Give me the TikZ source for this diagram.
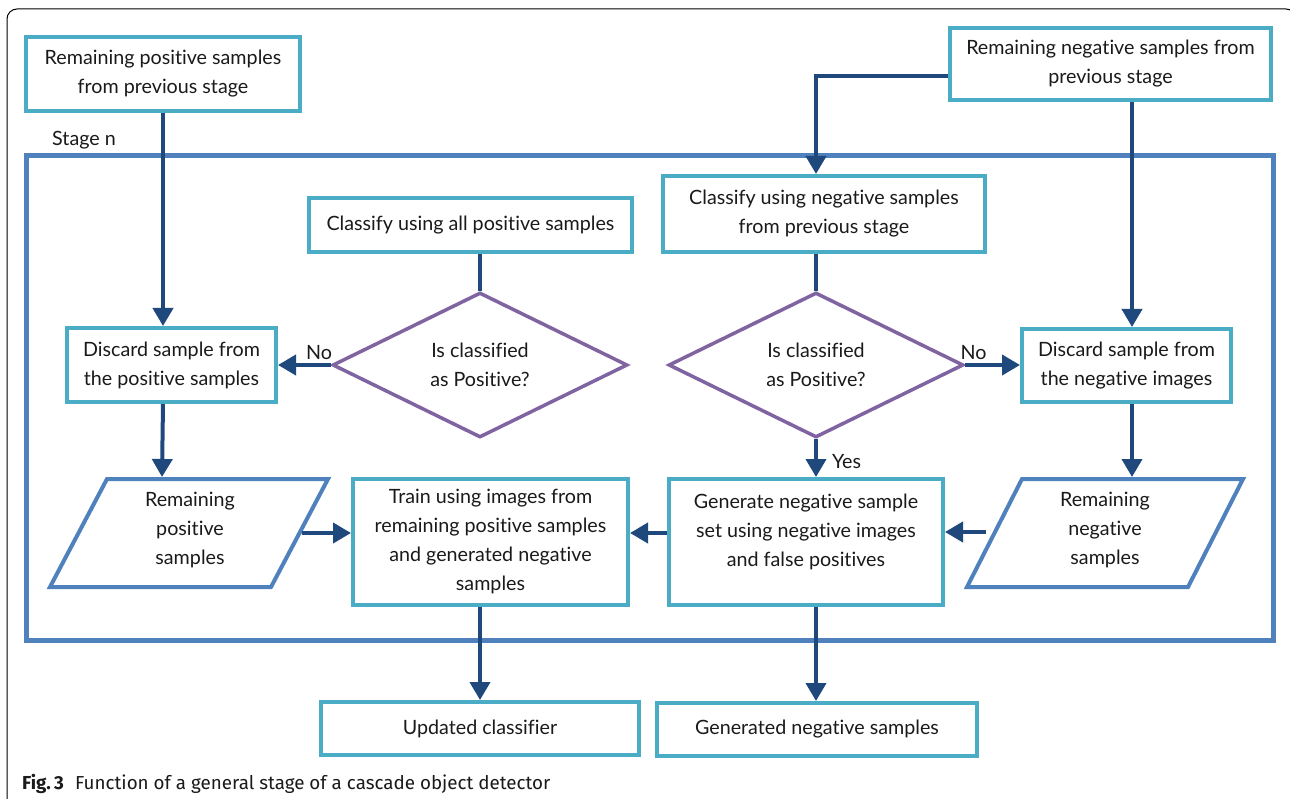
\documentclass[tikz,border=0pt]{standalone}
\usepackage{fontspec}
\setmainfont[Ligatures={NoCommon,NoRare,NoDiscretionary},Contextuals=NoAlternate]{Lato}
\newfontfamily\capfont{Fira Sans}
\usetikzlibrary{shapes.geometric,arrows.meta}
\definecolor{boxc}{HTML}{4BACC6}
\definecolor{stagec}{HTML}{4F81BD}
\definecolor{diac}{HTML}{8064A2}
\definecolor{arrc}{HTML}{1F497D}
\definecolor{txt}{HTML}{1A1A1A}
\begin{document}
\begin{tikzpicture}[x=1pt,y=-1pt,
  tfont/.style={font=\fontsize{19.7}{29}\selectfont},
  box/.style={draw=boxc, line width=4pt, fill=white, align=center, inner sep=0pt, text=txt, tfont},
  dec/.style={draw=diac, line width=3.5pt, shape=diamond, aspect=2, inner sep=0pt, align=center, text=txt, tfont},
  para/.style={draw=stagec, line width=4pt, line join=miter},
  lbl/.style={inner sep=0pt, text=txt, align=center, tfont},
  conn/.style={draw=arrc, line width=4pt},
  arr/.style={conn, -{Triangle[width=20pt,length=18pt]}},
]
\useasboundingbox (0,0) rectangle (1290,799);
\fill[white] (0,0) rectangle (1290,799);
\begin{scope}
  \clip (0,0) rectangle (1290,799);
  \draw[black, line width=1pt, rounded corners=10pt] (7,9) rectangle (1296,808);
\end{scope}

% stage frame
\draw[stagec, line width=5pt] (26.5,155.5) rectangle (1273.5,640.5);
\node[lbl, anchor=base west] (stg) at (52,146) {Stage n};

% boxes
\node[box, minimum width=274pt, minimum height=74pt] (tl) at (163,74) {Remaining positive samples\\from previous stage};
\node[box, minimum width=321pt, minimum height=72pt] (tr) at (1110.5,64) {Remaining negative samples from\\previous stage};
\node[box, minimum width=323pt, minimum height=54pt] (cp) at (470.5,225) {Classify using all positive samples};
\node[box, minimum width=322pt, minimum height=76pt] (cn) at (824,214) {Classify using negative samples\\from previous stage};
\node[dec, minimum width=295pt, minimum height=145pt] (d1) at (480,365) {Is classified\\as Positive?};
\node[dec, minimum width=295pt, minimum height=145pt] (d2) at (816,365) {Is classified\\as Positive?};
\node[box, minimum width=209pt, minimum height=74pt] (dp) at (171.5,365) {Discard sample from\\the positive samples};
\node[box, minimum width=209pt, minimum height=73pt] (dn) at (1126.5,365.5) {Discard sample from\\the negative images};
\node[box, minimum width=275pt, minimum height=126pt] (train) at (490.5,542) {Train using images from\\remaining positive samples\\and generated negative\\samples};
\node[box, minimum width=274pt, minimum height=126pt] (gen) at (806,542) {Generate negative sample\\set using negative images\\and false positives\rule[-24pt]{0pt}{0pt}};
\node[box, minimum width=318pt, minimum height=53pt] (uc) at (480,728.5) {Updated classifier};
\node[box, minimum width=320pt, minimum height=53pt] (gn) at (817,729.5) {Generated negative samples};

% parallelograms
\draw[para] (107,479) -- (328,479) -- (271,587) -- (50,587) -- cycle;
\node[lbl] (pl) at (190,530) {Remaining\\positive\\samples};
\draw[para] (1022,479) -- (1243,479) -- (1188,587) -- (967,587) -- cycle;
\node[lbl] (pr) at (1105,530) {Remaining\\negative\\samples};
\coordinate (plT) at (162,477);
\coordinate (plR) at (302,533);
\coordinate (prT) at (1132,477);
\coordinate (prL) at (986,532);

% connectors
\draw[arr] (tl.south) -- (tl.south |- dp.north);
\draw[arr] ([yshift=-12pt]tr.west) -| ([xshift=-8pt]cn.north);
\draw[arr] ([xshift=21.5pt]tr.south) -- ([xshift=21.5pt]tr.south |- dn.north);
\draw[conn] (d1.north |- cp.south) -- (d1.north);
\draw[conn] (d2.north |- cn.south) -- (d2.north);
\draw[arr] (d1.west) -- (d1.west -| dp.east) node[lbl, pos=0.22, above=3pt] {No};
\draw[arr] (d2.east) -- (d2.east -| dn.west) node[lbl, pos=0.15, above=3pt] {No};
\draw[arr] (d2.south) -- (d2.south |- gen.north) node[lbl, pos=0.6, right=14pt] {Yes};
\draw[arr] (tl.south |- dp.south) -- (plT);
\draw[arr] (prT |- dn.south) -- (prT);
\draw[arr] (plR) -- (plR -| train.west);
\draw[arr] (prL) -- (prL -| gen.east);
\draw[arr] ([yshift=9pt]gen.west) -- ([yshift=9pt]gen.west -| train.east);
\draw[arr] (d1.south |- train.south) -- (d1.south |- uc.north);
\draw[arr] (d2.south |- gen.south) -- (d2.south |- gn.north);

% caption
\node[anchor=base west, inner sep=0pt, text=txt, font=\capfont\fontsize{18.8}{22}\selectfont] (cap) at (22,789) {\textbf{Fig.\,3}\hspace{0.6em}Function of a general stage of a cascade object detector};
\end{tikzpicture}
\end{document}
